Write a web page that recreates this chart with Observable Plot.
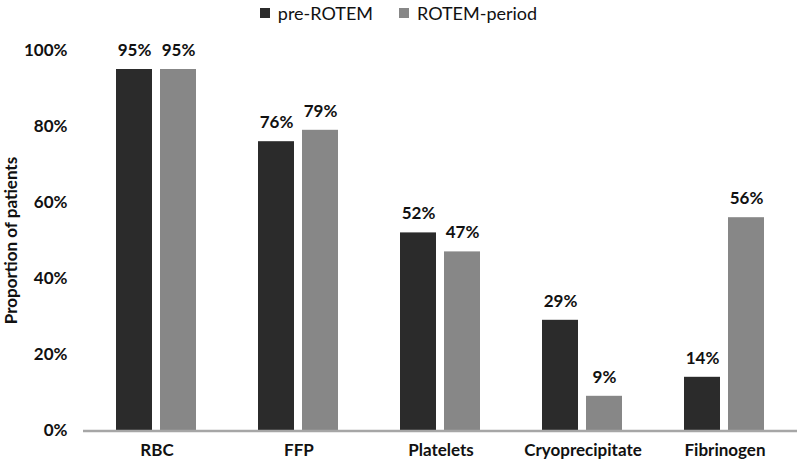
<!DOCTYPE html>
<html>
<head>
<meta charset="utf-8">
<script src="https://cdn.jsdelivr.net/npm/d3@7"></script>
<script src="https://cdn.jsdelivr.net/npm/@observablehq/plot@0.6"></script>
<style>
  html, body { margin: 0; padding: 0; background: #fff; }
  body { width: 797px; height: 464px; overflow: hidden; font-family: Lato, "Open Sans", sans-serif; }
  #legend { height: 25px; display: flex; justify-content: center; align-items: center; gap: 26px; font-size: 18px; color: #111; }
  #legend span.item { display: flex; align-items: center; gap: 8px; }
  #legend span.sw { width: 10px; height: 10px; display: inline-block; }
</style>
</head>
<body>
<div id="legend"></div>
<div id="chart"></div>
<script>
const categories = ["RBC", "FFP", "Platelets", "Cryoprecipitate", "Fibrinogen"];
const series = ["pre-ROTEM", "ROTEM-period"];
const preRotem = [95, 76, 52, 29, 14];
const rotemPeriod = [95, 79, 47, 9, 56];
const yTicks = [0, 20, 40, 60, 80, 100];
const colors = ["#2b2b2b", "#878787"];

const data = [];
categories.forEach((c, i) => {
  data.push({category: c, series: series[0], value: preRotem[i]});
  data.push({category: c, series: series[1], value: rotemPeriod[i]});
});

const legend = document.getElementById("legend");
series.forEach((s, i) => {
  const item = document.createElement("span");
  item.className = "item";
  const sw = document.createElement("span");
  sw.className = "sw";
  sw.style.background = colors[i];
  item.appendChild(sw);
  item.appendChild(document.createTextNode(s));
  legend.appendChild(item);
});

const W = 797, H = 439;
const FS = 17;
const plot = Plot.plot({
  width: W,
  height: H,
  marginLeft: 83,
  marginRight: 0,
  marginTop: 25,
  marginBottom: 34,
  style: {fontFamily: "Lato, 'Open Sans', sans-serif", fontSize: FS + "px", fontWeight: "bold", color: "#111", background: "#fff"},
  fx: {domain: categories, paddingInner: 0.43, paddingOuter: 0.215, label: null},
  x: {domain: series, paddingInner: 0.18, paddingOuter: 0, axis: null},
  y: {domain: [0, 100]},
  color: {domain: series, range: colors},
  marks: [
    Plot.axisFx({anchor: "bottom", tickSize: 0, tickPadding: 13, fontSize: FS, fontWeight: "bold", label: null}),
    Plot.axisY({ticks: yTicks, tickFormat: d => d + "%", tickSize: 0, tickPadding: 49, fontSize: FS, fontWeight: "bold",
      label: "Proportion of patients", labelAnchor: "center", labelOffset: 112, labelArrow: "none"}),
    Plot.barY(data, {fx: "category", x: "series", y: "value", fill: "series"}),
    Plot.text(data, {fx: "category", x: "series", y: "value", text: d => d.value + "%", dy: -19, fill: "#111", fontSize: FS, fontWeight: "bold"})
  ]
});

// baseline axis line spanning the full plot width
const y0 = plot.scale("y").apply(0);
const ns = "http://www.w3.org/2000/svg";
const line = document.createElementNS(ns, "line");
line.setAttribute("x1", 83);
line.setAttribute("x2", W);
line.setAttribute("y1", y0 + 1);
line.setAttribute("y2", y0 + 1);
line.setAttribute("stroke", "#a6a6a6");
line.setAttribute("stroke-width", 2.5);
plot.appendChild(line);

document.getElementById("chart").appendChild(plot);
</script>
</body>
</html>
